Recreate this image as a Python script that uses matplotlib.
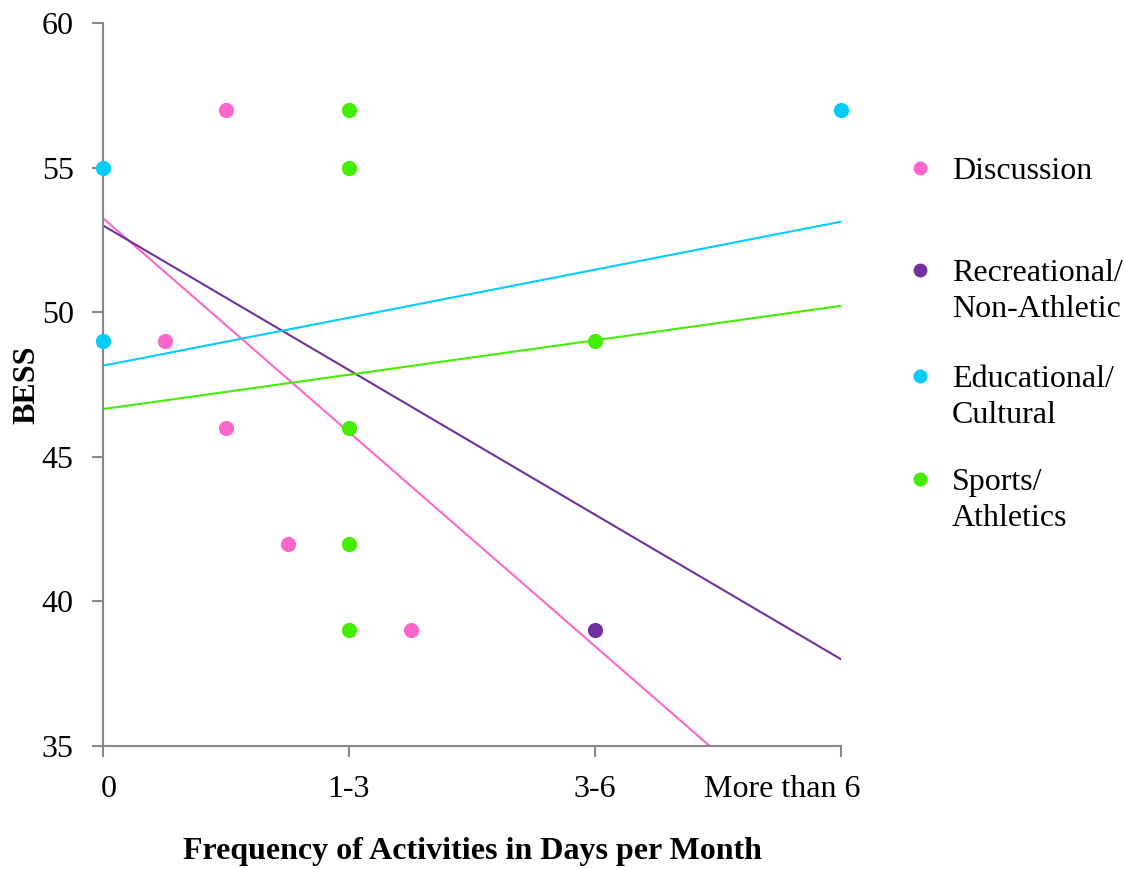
import matplotlib
matplotlib.use("Agg")
import matplotlib.pyplot as plt
import matplotlib.transforms as mtransforms
from matplotlib.lines import Line2D
import numpy as np

plt.rcParams['font.family'] = ['Liberation Serif', 'DejaVu Serif']

# x categories (positions 0..3)
categories = ['0', '1-3', '3-6', 'More than 6']

# scatter data per activity group
series = ['Discussion', 'Recreational/\nNon-Athletic', 'Educational/\nCultural', 'Sports/\nAthletics']
colors = ['#FF66CC', '#7030A0', '#00CCFF', '#44EE00']

disc_x = [0.5, 0.25, 0.5, 0.75, 1.25]
disc_y = [57, 49, 46, 42, 39]
rec_x = [2]
rec_y = [39]
edu_x = [0, 0, 3]
edu_y = [55, 49, 57]
spo_x = [1, 1, 1, 1, 1, 2]
spo_y = [57, 55, 46, 42, 39, 49]

# linear trend lines (intercept at x=0, slope per category step)
trend_intercept = [53.25, 53.0, 48.15, 46.65]
trend_slope = [-7.4, -5.0, 1.66, 1.19]

FS = 23

fig = plt.figure(figsize=(11.24, 8.69), dpi=100)
ax = fig.add_axes([103 / 1124, 123 / 869, 738 / 1124, 723 / 869])

xs_all = [disc_x, rec_x, edu_x, spo_x]
ys_all = [disc_y, rec_y, edu_y, spo_y]

xl = np.array([0, 3])
for b, m, c in zip(trend_intercept, trend_slope, colors):
  ax.plot(xl, b + m * xl, color=c, lw=1.5, zorder=2)

for x, y, c in zip(xs_all, ys_all, colors):
  ax.scatter(x, y, s=120, color=c, zorder=3, clip_on=False, linewidths=0)

ax.set_xlim(0, 3)
ax.set_ylim(35, 60)
ax.set_xticks(range(len(categories)))
ax.set_xticklabels(categories)
ax.set_yticks([35, 40, 45, 50, 55, 60])

for s in ['top', 'right']:
  ax.spines[s].set_visible(False)
for s in ['left', 'bottom']:
  ax.spines[s].set_color('#888888')
  ax.spines[s].set_linewidth(1.5)
ax.tick_params(axis='both', colors='#888888', width=1.5, length=8,
               labelsize=FS, labelcolor='black')
ax.tick_params(axis='x', pad=13)
ax.tick_params(axis='y', pad=13)

# end labels kept inside like the original
xt = ax.get_xticklabels()
xt[0].set_ha('left')
xt[0].set_transform(xt[0].get_transform() + mtransforms.ScaledTranslation(-0.02, 0, fig.dpi_scale_trans))
xt[-1].set_ha('right')
xt[-1].set_transform(xt[-1].get_transform() + mtransforms.ScaledTranslation(0.19, 0, fig.dpi_scale_trans))

ax.set_xlabel('Frequency of Activities in Days per Month', fontsize=FS,
              fontweight='bold', va='center')
ax.xaxis.set_label_coords(0.5, (746 - 851) / 723)
ax.set_ylabel('BESS', fontsize=FS, fontweight='bold', va='center')
ax.yaxis.set_label_coords((27 - 103) / 738, 0.5)

# legend, drawn by hand so markers sit on the first text line
leg_y = [168, 270, 376, 479]
for ly, lab, c in zip(leg_y, series, colors):
  fy = 1 - ly / 869
  fig.add_artist(Line2D([920 / 1124], [fy], marker='o', markersize=10,
                        color=c, markeredgewidth=0, transform=fig.transFigure))
  fig.text(952 / 1124, 1 - (ly - 11) / 869, lab, fontsize=FS, va='top',
           ha='left', linespacing=1.3, transform=fig.transFigure)

fig.savefig('out.png', dpi=100)
